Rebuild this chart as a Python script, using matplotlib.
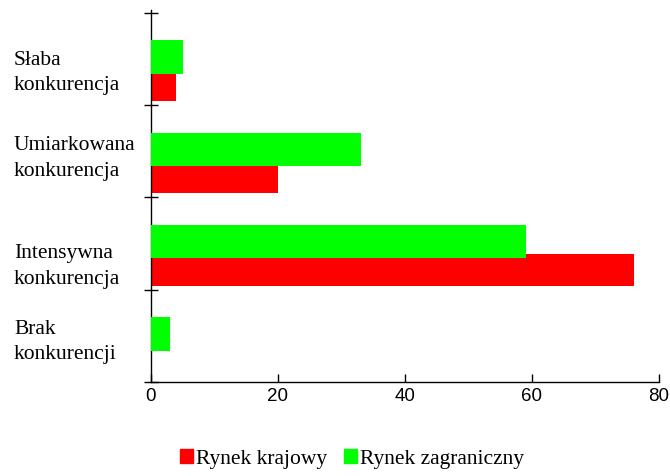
import matplotlib.pyplot as plt
import matplotlib.transforms as mtransforms
import numpy as np
from matplotlib.patches import Patch

kategorie = ['Słaba\nkonkurencja', 'Umiarkowana\nkonkurencja',
             'Intensywna\nkonkurencja', 'Brak\nkonkurencji']
krajowy = [4, 20, 76, 0]
zagraniczny = [5, 33, 59, 3]

CZERWONY = '#ff0000'
ZIELONY = '#00ff00'

plt.rcParams['font.family'] = ['Liberation Serif', 'DejaVu Serif']

fig = plt.figure(figsize=(6.7, 4.76), dpi=100)
ax = fig.add_axes([151 / 670, 1 - 382 / 476, 508 / 670, 372 / 476])

pozycje = np.arange(len(kategorie))
# czerwone pod spodem, zielone na wierzchu (lekko zachodzą na siebie)
ax.barh(pozycje + 0.785, krajowy, height=0.34, color=CZERWONY, zorder=2)
ax.barh(pozycje + 0.48, zagraniczny, height=0.36, color=ZIELONY, zorder=3)

ax.set_xlim(0, 80)
ax.set_ylim(4, -0.03)
ax.set_xticks([0, 20, 40, 60, 80])
ax.set_yticks(np.arange(len(kategorie) + 1))
ax.set_yticklabels([])

for s in ('top', 'right'):
    ax.spines[s].set_visible(False)
for s in ('left', 'bottom'):
    ax.spines[s].set_color('black')
    ax.spines[s].set_linewidth(1.0)

ax.tick_params(axis='x', direction='in', length=6, width=1, pad=4,
               labelsize=13.5, labelfontfamily='Liberation Sans')
ax.tick_params(axis='y', direction='inout', length=10, width=1)

# podpisy kategorii wyrównane do lewej krawędzi figury
tr = mtransforms.blended_transform_factory(fig.transFigure, ax.transData)
przesuniecia = [0.65, 0.58, 0.75, 0.57]
for i, (nazwa, dy) in enumerate(zip(kategorie, przesuniecia)):
    ax.text(14 / 670, i + dy, nazwa, transform=tr, fontsize=15.5,
            ha='left', va='center', linespacing=1.45)

uchwyty = [Patch(color=CZERWONY, label='Rynek krajowy'),
           Patch(color=ZIELONY, label='Rynek zagraniczny')]
fig.legend(handles=uchwyty, loc='center', bbox_to_anchor=(352 / 670, 1 - 459 / 476),
           ncol=2, frameon=False, fontsize=15.5, handlelength=0.6,
           handleheight=0.6, handletextpad=0.15, columnspacing=0.8)

fig.savefig('out.png', dpi=100)
